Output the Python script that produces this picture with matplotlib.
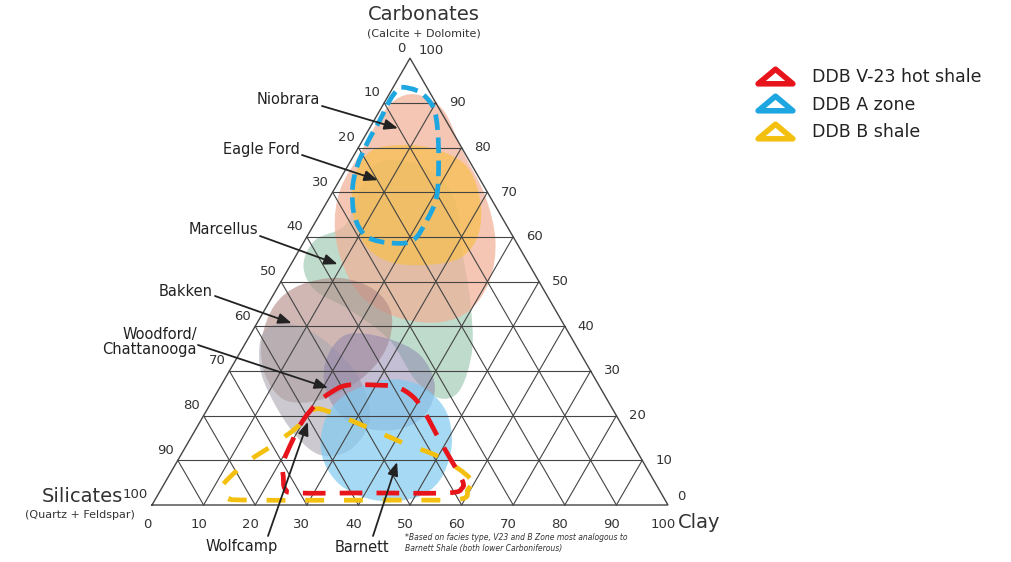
import numpy as np
import matplotlib.pyplot as plt
from matplotlib.path import Path
from matplotlib.patches import PathPatch
from matplotlib.lines import Line2D
from matplotlib.markers import MarkerStyle

W, H = 1012, 562

# ternary outlines, (clay %, carbonate %)
marcellus_clay = [8.5, 16.4, 24.6, 31.6, 38.7, 44.7, 46.8, 43.8, 37.0, 27.6, 16.6, 7.5, 2.5, 2.0, 6.1, 5.1, 5.2]
marcellus_carb = [77.2, 74.9, 68.2, 57.0, 45.9, 34.7, 25.7, 23.9, 28.0, 36.9, 43.6, 48.1, 53.7, 59.3, 62.6, 70.5, 76.1]

niobrara_clay = [3.1, 7.3, 12.8, 20.4, 29.8, 36.9, 40.3, 39.8, 35.3, 27.2, 18.4, 11.1, 4.7, 1.2, 1.0, 1.0]
niobrara_carb = [91.7, 91.3, 87.9, 79.4, 69.4, 59.3, 50.3, 43.6, 40.9, 41.8, 45.9, 52.6, 61.5, 70.5, 79.4, 88.4]

eagleford_clay = [6.8, 14.0, 22.7, 29.5, 33.0, 32.1, 26.1, 18.9, 12.2, 5.8, 2.4, 2.7]
eagleford_carb = [80.5, 79.9, 76.1, 68.2, 60.4, 55.3, 53.7, 54.4, 58.2, 66.0, 73.8, 79.0]

bakken_clay = [4.1, 11.0, 19.1, 25.2, 27.9, 26.3, 20.8, 14.0, 7.4, 2.8, 1.4]
bakken_carb = [49.2, 50.8, 48.1, 42.5, 34.7, 28.0, 23.5, 23.5, 29.1, 36.9, 44.7]

woodford_clay = [2.3, 7.6, 16.6, 26.3, 32.7, 32.2, 27.0, 19.9, 11.6, 5.2]
woodford_carb = [39.1, 40.3, 35.8, 28.0, 19.0, 12.3, 11.2, 15.7, 23.5, 31.3]

chattanooga_clay = [18.4, 26.5, 35.1, 41.4, 42.8, 38.7, 30.3, 22.7, 17.8]
chattanooga_carb = [38.0, 37.4, 33.6, 26.8, 20.1, 16.8, 17.9, 23.5, 31.3]

barnett_clay = [25.1, 31.2, 38.5, 46.2, 51.4, 53.0, 50.2, 42.6, 34.2, 27.3, 24.0]
barnett_carb = [24.6, 28.0, 26.8, 21.3, 13.4, 5.6, 1.6, 1.1, 4.5, 11.2, 19.0]

# DDB zones (dashed outlines)
zone_a_clay = [1.8, 5.7, 10.0, 13.4, 17.3, 20.7, 21.4, 21.0, 17.4, 11.7, 7.1, 3.6, 1.9, 1.2, 1.1, 0.8, 1.1]
zone_a_carb = [93.5, 92.4, 89.0, 83.9, 76.5, 68.9, 63.8, 59.3, 58.6, 60.0, 64.4, 70.5, 75.6, 81.0, 86.1, 90.6, 92.8]

v23_clay = [22.0, 24.4, 30.8, 34.3, 38.5, 42.6, 48.5, 53.6, 57.3, 58.2, 55.9, 40.9, 26.8, 24.0, 22.3, 20.7, 20.0, 19.8, 20.6]
v23_carb = [25.1, 26.8, 26.8, 26.4, 24.2, 20.6, 14.5, 9.4, 5.6, 3.8, 2.7, 2.7, 2.7, 3.6, 6.3, 9.4, 14.5, 19.0, 22.8]

b_shale_clay = [58.6, 50.4, 41.7, 33.0, 24.1, 20.6, 19.4, 16.7, 14.0, 12.0, 11.5, 13.9, 18.4, 47.5, 59.0, 59.5]
b_shale_carb = [6.0, 10.7, 13.9, 17.4, 20.8, 21.3, 17.4, 13.4, 10.1, 6.3, 3.4, 1.6, 1.1, 1.1, 1.3, 3.4]

# annotation targets (clay %, carbonate %)
formation_names = ["Niobrara", "Eagle Ford", "Marcellus", "Bakken", "Woodford/\nChattanooga", "Wolfcamp", "Barnett"]
target_clay = [5.5, 7.4, 9.0, 6.7, 21.0, 20.9, 42.7]
target_carb = [84.3, 72.7, 53.9, 40.7, 26.2, 18.6, 9.6]

ticks = [0, 10, 20, 30, 40, 50, 60, 70, 80, 90, 100]

zone_labels = ["DDB V-23 hot shale", "DDB A zone", "DDB B shale"]


def tern(clay, carb):
    clay = np.asarray(clay, float) / 100
    carb = np.asarray(carb, float) / 100
    return clay + carb / 2, carb * np.sqrt(3) / 2


def smooth_path(clay, carb):
    # closed Catmull-Rom curve through the outline points
    x, y = tern(clay, carb)
    pts = np.column_stack([x, y])
    n = len(pts)
    verts, codes = [pts[0]], [Path.MOVETO]
    for i in range(n):
        p0, p1, p2, p3 = pts[i - 1], pts[i], pts[(i + 1) % n], pts[(i + 2) % n]
        verts += [p1 + (p2 - p0) / 6, p2 - (p3 - p1) / 6, p2]
        codes += [Path.CURVE4] * 3
    return Path(verts, codes)


def fpx(x, y):
    return x / W, 1 - y / H


fig = plt.figure(figsize=(W / 100, H / 100), dpi=100)
ax = fig.add_axes([0, 0, 1, 1])
scale = 516
ax.set_xlim(-152 / scale, (W - 152) / scale)
ax.set_ylim(-57 / scale, (H - 57) / scale)
ax.axis("off")

# shaded formation fields
fields = [
    (marcellus_clay, marcellus_carb, "#a9cfbb", 0.75),
    (niobrara_clay, niobrara_carb, "#f2b096", 0.72),
    (eagleford_clay, eagleford_carb, "#f7c048", 0.68),
    (bakken_clay, bakken_carb, "#b48c86", 0.62),
    (woodford_clay, woodford_carb, "#aaa8b2", 0.6),
    (chattanooga_clay, chattanooga_carb, "#8c80ac", 0.5),
    (barnett_clay, barnett_carb, "#80cbf0", 0.7),
]
for c, k, col, a in fields:
    ax.add_patch(PathPatch(smooth_path(c, k), facecolor=col, edgecolor="none",
                           alpha=a, zorder=1))

# grid
gcol, glw = "#444444", 0.8
for v in ticks[1:-1]:
    ax.plot(*tern([0, 100 - v], [v, v]), color=gcol, lw=glw, zorder=2)
    ax.plot(*tern([v, v], [0, 100 - v]), color=gcol, lw=glw, zorder=2)
    ax.plot(*tern([100 - v, 0], [0, 100 - v]), color=gcol, lw=glw, zorder=2)
ax.plot(*tern([0, 100, 0, 0], [0, 0, 100, 0]), color=gcol, lw=1.0, zorder=2,
        solid_joinstyle="miter")

# tick labels
tick_kw = dict(textcoords="offset pixels", fontsize=9.5, color="#333333")
for v in ticks:
    # left side: along horizontal lines, counted from the apex
    ax.annotate(str(100 - v), tern(0, v), xytext=(-4, 10), ha="right",
                va="center", **tick_kw)
    # right side: carbonate
    dy = 8 if v in (0, 100) else 0
    dx = 9 if v in (0, 100) else 13
    ax.annotate(str(v), tern(100 - v, v), xytext=(dx, dy), ha="left",
                va="center", **tick_kw)
    # bottom: clay
    ax.annotate(str(v), tern(v, 0), xytext=(-5, -20), ha="center",
                va="center", **tick_kw)

# zone outlines
zones = [
    (b_shale_clay, b_shale_carb, "#f4c010", (0, (4.0, 4.2))),
    (v23_clay, v23_carb, "#e8141c", (0, (4.8, 3.0))),
    (zone_a_clay, zone_a_carb, "#1ea6e0", (0, (3.3, 1.6))),
]
for c, k, col, ls in zones:
    ax.add_patch(PathPatch(smooth_path(c, k), facecolor="none", edgecolor=col,
                           lw=3.4, linestyle=ls, zorder=4))

# formation labels and arrows (figure pixel positions)
label_xy = [(320, 100), (300, 150), (258, 230), (213, 291), (197, 342), (242, 547), (362, 547)]
label_ha = ["right", "right", "right", "right", "right", "center", "center"]
arrow_start = [(322, 106), (302, 155), (260, 236), (215, 296), (198, 345), (268, 536), (373, 536)]
for name, (lx, ly), ha, (sx, sy), c, k in zip(formation_names, label_xy, label_ha,
                                              arrow_start, target_clay, target_carb):
    fig.text(*fpx(lx, ly), name, ha=ha, va="center", fontsize=10.5,
             color="#222222", linespacing=1.0, multialignment="right")
    ax.annotate("", xy=tern(c, k), xytext=(sx, H - sy), textcoords="figure pixels",
                arrowprops=dict(arrowstyle="-|>,head_length=0.8,head_width=0.32",
                                color="#222222", lw=1.3, shrinkA=0, shrinkB=0),
                zorder=5)

# axis titles
fig.text(*fpx(424, 15), "Carbonates", ha="center", va="center", fontsize=14, color="#333333")
fig.text(*fpx(424, 33), "(Calcite + Dolomite)", ha="center", va="center", fontsize=8, color="#333333")
fig.text(*fpx(123, 497), "Silicates", ha="right", va="center", fontsize=14, color="#333333")
fig.text(*fpx(80, 515), "(Quartz + Feldspar)", ha="center", va="center", fontsize=8, color="#333333")
fig.text(*fpx(678, 522), "Clay", ha="left", va="center", fontsize=14, color="#333333")

fig.text(*fpx(405, 543),
         "*Based on facies type, V23 and B Zone most analogous to\n"
         "Barnett Shale (both lower Carboniferous)",
         ha="left", va="center", fontsize=5.5, style="italic", color="#333333")

# legend
tri = Path([(-1, -0.42), (1, -0.42), (0, 0.42), (-1, -0.42)],
           [Path.MOVETO, Path.LINETO, Path.LINETO, Path.CLOSEPOLY])
handles = [Line2D([], [], linestyle="none",
                  marker=MarkerStyle(tri, joinstyle="round"), markersize=25,
                  markerfacecolor="none", markeredgecolor=col, markeredgewidth=4.0)
           for col in ["#e8141c", "#1ea6e0", "#f4c010"]]
fig.legend(handles, zone_labels, loc="upper left", bbox_to_anchor=fpx(756, 68),
           frameon=False, fontsize=12.5, handlelength=2.2, handletextpad=1.0,
           labelspacing=0.55, borderpad=0, borderaxespad=0, labelcolor="#222222")

fig.savefig("out.png", dpi=100)
